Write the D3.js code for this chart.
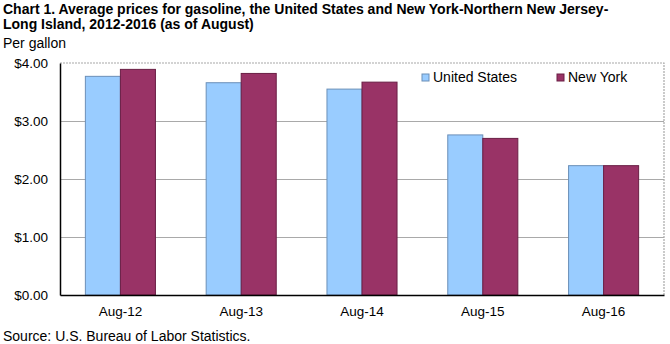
<!DOCTYPE html>
<html>
<head>
<meta charset="utf-8">
<script src="https://cdn.jsdelivr.net/npm/d3@7"></script>
<style>
  html, body { margin: 0; padding: 0; background: #fff; }
  svg { display: block; font-family: "Liberation Sans", Arial, sans-serif; }
</style>
</head>
<body>
<svg id="chart" width="670" height="344"></svg>
<script>
// Average gasoline prices, August of each year (dollars per gallon)
const categories = ["Aug-12", "Aug-13", "Aug-14", "Aug-15", "Aug-16"];
const seriesNames = ["United States", "New York"];
const usValues = [3.77, 3.66, 3.55, 2.76, 2.23];
const nyValues = [3.89, 3.82, 3.67, 2.70, 2.23];
const yTicks = [0, 1, 2, 3, 4];

const colors = { "United States": "#99ccff", "New York": "#993366" };
const strokes = { "United States": "#6b8fb8", "New York": "#6a1f45" };

const svg = d3.select("#chart");
const plot = { left: 60, right: 664, top: 63, bottom: 295 };

const x = d3.scaleBand()
  .domain(categories)
  .range([plot.left, plot.right])
  .paddingInner(0.42)
  .paddingOuter(0.21);

const xSub = d3.scaleBand()
  .domain(seriesNames)
  .range([0, x.bandwidth()]);

const y = d3.scaleLinear().domain([0, 4]).range([plot.bottom, plot.top]);

// Title
const title = svg.append("text")
  .attr("x", 3).attr("font-size", 14).attr("font-weight", "bold").attr("fill", "#000");
title.append("tspan").attr("x", 3).attr("y", 14)
  .text("Chart 1. Average prices for gasoline, the United States and New York-Northern New Jersey-");
title.append("tspan").attr("x", 3).attr("y", 29)
  .text("Long Island, 2012-2016 (as of August)");

svg.append("text").attr("x", 3).attr("y", 48).attr("font-size", 14).text("Per gallon");

// Plot frame (top and right edges)
svg.append("path")
  .attr("d", `M${plot.left},${plot.top}H${plot.right}V${plot.bottom}`)
  .attr("fill", "none").attr("stroke", "#a8a8a8").attr("stroke-width", 1.2)
  .attr("stroke-dasharray", "2,1");

// Horizontal gridlines
svg.append("g")
  .selectAll("line")
  .data(yTicks.filter(d => d > 0 && d < 4))
  .join("line")
  .attr("x1", plot.left).attr("x2", plot.right)
  .attr("y1", d => Math.round(y(d)) + 0.5).attr("y2", d => Math.round(y(d)) + 0.5)
  .attr("stroke", "#a9a9a9").attr("stroke-width", 1.2);

// Bars
const rows = categories.map((c, i) => ({ cat: c, values: [
  { name: "United States", value: usValues[i] },
  { name: "New York", value: nyValues[i] }
]}));

svg.append("g")
  .selectAll("g")
  .data(rows)
  .join("g")
  .attr("transform", d => `translate(${x(d.cat)},0)`)
  .selectAll("rect")
  .data(d => d.values)
  .join("rect")
  .attr("x", d => xSub(d.name))
  .attr("y", d => y(d.value))
  .attr("width", xSub.bandwidth())
  .attr("height", d => y(0) - y(d.value))
  .attr("fill", d => colors[d.name])
  .attr("stroke", d => strokes[d.name])
  .attr("stroke-width", 1);

// Y axis
const yAxis = d3.axisLeft(y).tickValues(yTicks)
  .tickFormat(d => "$" + d3.format(".2f")(d)).tickSize(0).tickPadding(12);
const gy = svg.append("g").attr("transform", `translate(${plot.left},0)`).call(yAxis);
gy.select(".domain").attr("stroke", "#000").attr("stroke-width", 1.5);
gy.selectAll("text").attr("font-size", 13.5).attr("fill", "#000")
  .attr("font-family", "Liberation Sans, Arial, sans-serif");

// X axis
const xAxis = d3.axisBottom(x).tickSize(0).tickPadding(11);
const gx = svg.append("g").attr("transform", `translate(0,${plot.bottom})`).call(xAxis);
gx.select(".domain").attr("stroke", "#000").attr("stroke-width", 1.5);
gx.selectAll("text").attr("font-size", 13.5).attr("fill", "#000")
  .attr("font-family", "Liberation Sans, Arial, sans-serif");

// Legend
const legendPos = [{ name: "United States", x: 422 }, { name: "New York", x: 557 }];
const lg = svg.append("g").selectAll("g").data(legendPos).join("g")
  .attr("transform", d => `translate(${d.x},74)`);
lg.append("rect").attr("width", 7).attr("height", 7)
  .attr("fill", d => colors[d.name]).attr("stroke", d => strokes[d.name]);
lg.append("text").attr("x", 11).attr("y", 8).attr("font-size", 14).text(d => d.name);

// Source note
svg.append("text").attr("x", 3).attr("y", 341).attr("font-size", 14)
  .text("Source: U.S. Bureau of Labor Statistics.");
</script>
</body>
</html>
